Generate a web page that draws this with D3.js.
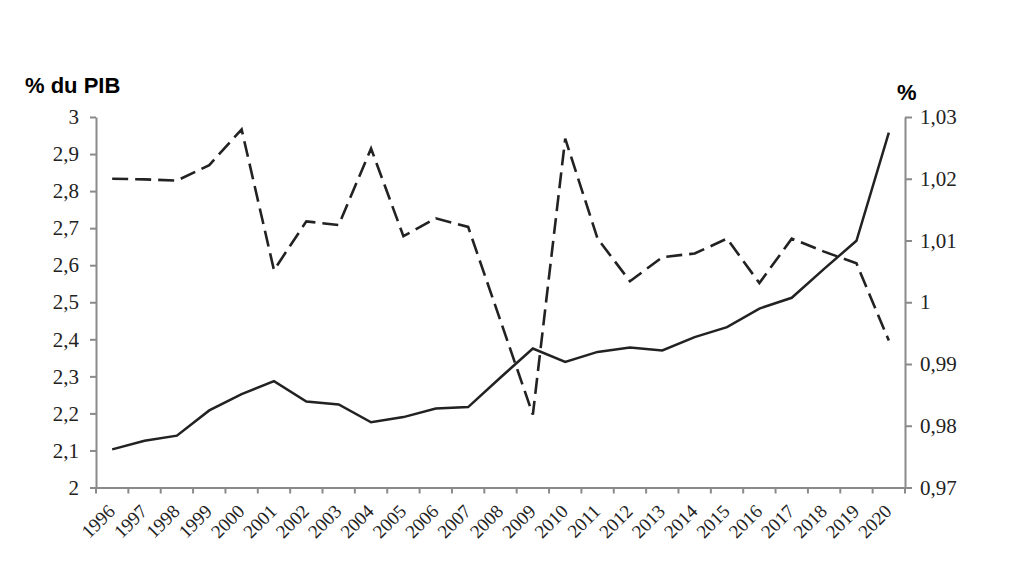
<!DOCTYPE html>
<html>
<head>
<meta charset="utf-8">
<script src="https://cdn.jsdelivr.net/npm/d3@7"></script>
<style>
  html, body { margin: 0; padding: 0; background: #fff; }
  svg { display: block; }
</style>
</head>
<body>
<svg id="chart" width="1024" height="572"></svg>
<script>
const years = [1996,1997,1998,1999,2000,2001,2002,2003,2004,2005,2006,2007,2008,2009,2010,2011,2012,2013,2014,2015,2016,2017,2018,2019,2020];
// Solid line, left axis (% du PIB)
const pibShare = [2.103,2.126,2.140,2.208,2.252,2.287,2.232,2.224,2.176,2.190,2.213,2.217,2.297,2.375,2.339,2.366,2.378,2.370,2.406,2.433,2.483,2.512,2.590,2.666,2.958];
// Dashed line, right axis (%)
const ratePct = [1.0200,1.0199,1.0197,1.0222,1.0280,1.0052,1.0131,1.0125,1.0249,1.0107,1.0136,1.0122,0.9970,0.9818,1.0265,1.0103,1.0034,1.0073,1.0079,1.0103,1.0031,1.0103,1.0082,1.0063,0.9938];
const leftTicks = [2,2.1,2.2,2.3,2.4,2.5,2.6,2.7,2.8,2.9,3];
const rightTicks = [0.97,0.98,0.99,1,1.01,1.02,1.03];
const leftTitle = "% du PIB";
const rightTitle = "%";

const svg = d3.select("#chart");
const L = 96, R = 905, T = 117, B = 487.5;

const x = d3.scaleBand().domain(years).range([L, R]).padding(0);
const yL = d3.scaleLinear().domain([2, 3]).range([B, T]);
const yR = d3.scaleLinear().domain([0.97, 1.03]).range([B, T]);
const fmt = v => String(v).replace(".", ",");
const axisColor = "#8a8a8a";
const serif = "'Liberation Serif', 'Times New Roman', serif";

// Left axis
const gL = svg.append("g").attr("transform", `translate(${L},0)`)
  .call(d3.axisLeft(yL).tickValues(leftTicks).tickFormat(fmt).tickSize(6).tickSizeOuter(0).tickPadding(11));
// Right axis
const gR = svg.append("g").attr("transform", `translate(${R},0)`)
  .call(d3.axisRight(yR).tickValues(rightTicks).tickFormat(fmt).tickSize(7).tickSizeOuter(0).tickPadding(8));
[gL, gR].forEach(g => {
  g.select(".domain").attr("stroke", axisColor).attr("stroke-width", 2);
  g.selectAll(".tick line").attr("stroke", axisColor).attr("stroke-width", 2);
  g.selectAll(".tick text").attr("fill", "#222").style("font-family", serif).style("font-size", "21px");
});

// Bottom axis: labels at band centres
const gB = svg.append("g").attr("transform", `translate(0,${B})`)
  .call(d3.axisBottom(x).tickSize(0).tickSizeOuter(0));
gB.select(".domain").attr("stroke", axisColor).attr("stroke-width", 2.2);
gB.selectAll(".tick text")
  .attr("fill", "#222")
  .style("font-family", serif).style("font-size", "19px")
  .attr("text-anchor", "end")
  .attr("dy", null).attr("y", null)
  .attr("transform", "translate(4,25) rotate(-45)");
// Bottom boundary ticks
const bounds = years.map(d => x(d)).concat([R]);
svg.append("g").selectAll("line").data(bounds).join("line")
  .attr("x1", d => d).attr("x2", d => d)
  .attr("y1", B).attr("y2", B + 6)
  .attr("stroke", axisColor).attr("stroke-width", 2);

const cx = d => x(d) + x.bandwidth() / 2;

// Dashed line (right axis)
svg.append("path")
  .datum(years.map((d, i) => [d, ratePct[i]]))
  .attr("fill", "none").attr("stroke", "#222").attr("stroke-width", 2.6)
  .attr("stroke-dasharray", "16,7")
  .attr("d", d3.line().x(d => cx(d[0])).y(d => yR(d[1])));

// Solid line (left axis)
svg.append("path")
  .datum(years.map((d, i) => [d, pibShare[i]]))
  .attr("fill", "none").attr("stroke", "#222").attr("stroke-width", 2.5)
  .attr("d", d3.line().x(d => cx(d[0])).y(d => yL(d[1])));

// Titles
svg.append("text").attr("x", 25).attr("y", 93)
  .style("font-family", "'Liberation Sans', Arial, sans-serif").style("font-weight", "bold").style("font-size", "22px")
  .attr("fill", "#000").text(leftTitle);
svg.append("text").attr("x", 897).attr("y", 100)
  .style("font-family", "'Liberation Sans', Arial, sans-serif").style("font-weight", "bold").style("font-size", "22px")
  .attr("fill", "#000").text(rightTitle);
</script>
</body>
</html>
